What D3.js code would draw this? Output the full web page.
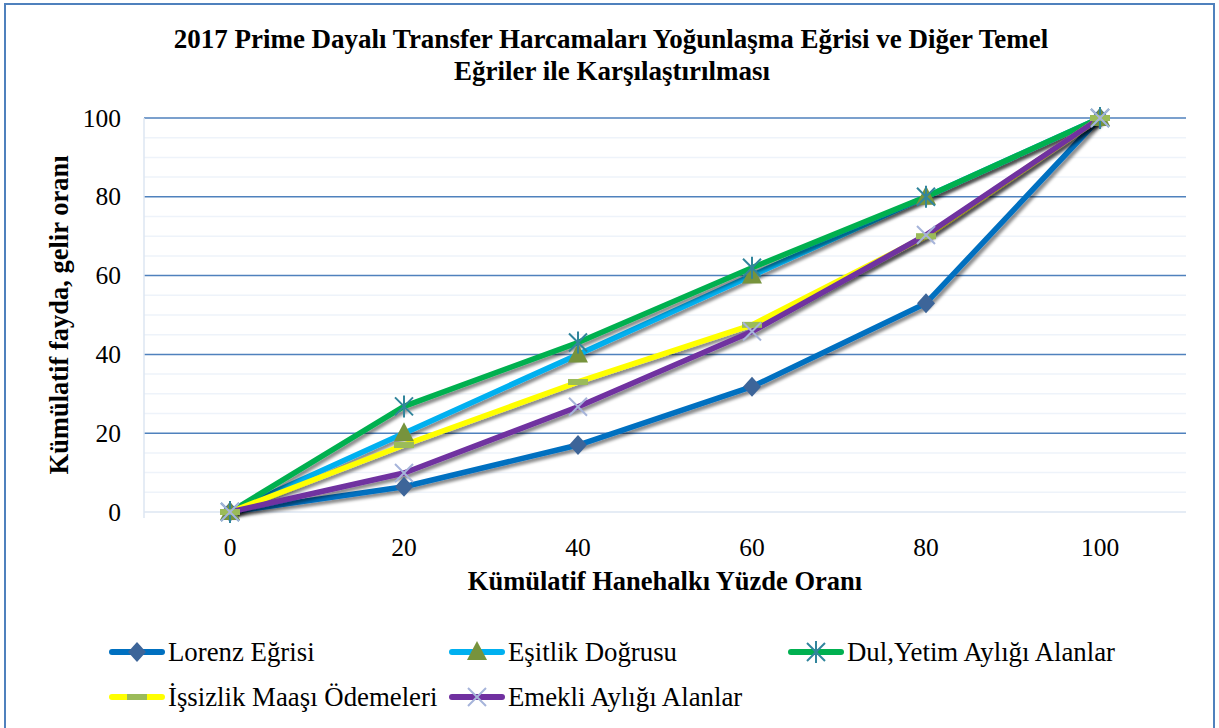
<!DOCTYPE html>
<html><head><meta charset="utf-8">
<script src="https://cdn.jsdelivr.net/npm/d3@7"></script>
<style>body{margin:0;background:#fff}svg{display:block}</style>
</head><body><svg id="c" width="1219" height="728" font-family="Liberation Serif"></svg>
<script>
const categories = [0, 20, 40, 60, 80, 100];
const yTicks = [0, 20, 40, 60, 80, 100];
const seriesNames = ["Lorenz Eğrisi", "Eşitlik Doğrusu", "Dul,Yetim Aylığı Alanlar", "İşsizlik Maaşı Ödemeleri", "Emekli Aylığı Alanlar"];
const lorenz = [0, 6.4, 17, 31.8, 53, 100];
const esitlik = [0, 20, 40, 60, 80, 100];
const dulYetim = [0, 26.8, 43, 62, 80, 100];
const issizlik = [0, 17, 33, 47.5, 70, 100];
const emekli = [0, 9.9, 26.7, 45.8, 70.3, 100];

const svg = d3.select("#c");
const defs = svg.append("defs");
const f = defs.append("filter").attr("id","sh").attr("x","-10%").attr("y","-10%").attr("width","130%").attr("height","130%");
f.append("feDropShadow").attr("dx",2.5).attr("dy",3).attr("stdDeviation",1.8).attr("flood-color","#000").attr("flood-opacity",0.45);

// border
svg.append("rect").attr("x",5).attr("y",4).attr("width",1209).attr("height",740).attr("fill","none").attr("stroke","#4F81BD").attr("stroke-width",2);

const x = d3.scalePoint().domain(categories).range([143,1187]).padding(0.5);
const y = d3.scaleLinear().domain([0,100]).range([512,118]);

// minor gridlines
const minor = d3.range(5,100,5).filter(v=>v%20!==0);
svg.append("g").selectAll("line").data(minor).join("line")
  .attr("x1",144).attr("x2",1186).attr("y1",d=>y(d)).attr("y2",d=>y(d))
  .attr("stroke","#EEF3FA").attr("stroke-width",1.5);
// major gridlines
svg.append("g").selectAll("line").data(yTicks.filter(v=>v>0)).join("line")
  .attr("x1",144).attr("x2",1186).attr("y1",d=>y(d)).attr("y2",d=>y(d))
  .attr("stroke","#4F81BD").attr("stroke-width",1.5);
// zero line & left axis
svg.append("line").attr("x1",144).attr("x2",1186).attr("y1",y(0)).attr("y2",y(0)).attr("stroke","#DCE6F2").attr("stroke-width",1.5);
svg.append("line").attr("x1",144).attr("x2",144).attr("y1",y(100)).attr("y2",y(0)+6).attr("stroke","#DCE6F2").attr("stroke-width",1.5);

// y tick labels
svg.append("g").selectAll("text").data(yTicks).join("text").attr("font-family","Liberation Serif")
  .attr("x",121).attr("y",d=>y(d)+8.5).attr("text-anchor","end").attr("font-size",25.5).text(d=>d);
// x tick labels
svg.append("g").selectAll("text").data(categories).join("text").attr("font-family","Liberation Serif")
  .attr("x",d=>x(d)).attr("y",556).attr("text-anchor","middle").attr("font-size",25.5).text(d=>d);

// titles
const T = (sel)=>sel.attr("font-family","Liberation Serif").attr("font-weight","bold").attr("text-anchor","middle");
T(svg.append("text")).attr("x",611).attr("y",48).attr("font-size",27).text("2017 Prime Dayalı Transfer Harcamaları Yoğunlaşma Eğrisi ve Diğer Temel");
T(svg.append("text")).attr("x",612).attr("y",80).attr("font-size",27).text("Eğriler ile Karşılaştırılması");
T(svg.append("text")).attr("x",665).attr("y",590).attr("font-size",26.5).text("Kümülatif Hanehalkı Yüzde Oranı");
T(svg.append("text")).attr("transform","translate(68,315) rotate(-90)").attr("font-size",26.5).text("Kümülatif fayda, gelir oranı");

const series = [
  {name:seriesNames[0], data:lorenz, color:"#0070C0", marker:"diamond", mcolor:"#3D6599"},
  {name:seriesNames[1], data:esitlik, color:"#00B0F0", marker:"triangle", mcolor:"#77933C"},
  {name:seriesNames[2], data:dulYetim, color:"#00B050", marker:"star", mcolor:"#31859C"},
  {name:seriesNames[3], data:issizlik, color:"#FFFF00", marker:"dash", mcolor:"#9BBB59"},
  {name:seriesNames[4], data:emekli, color:"#7030A0", marker:"x", mcolor:"#A6B4DA"}
];

function drawMarker(g, type, cx, cy, col){
  if(type==="diamond"){
    g.append("path").attr("d",`M${cx},${cy-10}L${cx+9},${cy}L${cx},${cy+10}L${cx-9},${cy}Z`).attr("fill",col);
  } else if(type==="triangle"){
    g.append("path").attr("d",`M${cx},${cy-11}L${cx+10},${cy+8}L${cx-10},${cy+8}Z`).attr("fill",col);
  } else if(type==="star"){
    const s=9;
    g.append("path").attr("d",`M${cx-s},${cy-s}L${cx+s},${cy+s}M${cx-s},${cy+s}L${cx+s},${cy-s}M${cx},${cy-s-2}L${cx},${cy+s+2}`).attr("stroke",col).attr("stroke-width",2).attr("fill","none");
  } else if(type==="dash"){
    g.append("rect").attr("x",cx-10).attr("y",cy-3).attr("width",20).attr("height",6).attr("fill",col);
  } else if(type==="x"){
    const s=9;
    g.append("path").attr("d",`M${cx-s},${cy-s}L${cx+s},${cy+s}M${cx-s},${cy+s}L${cx+s},${cy-s}`).attr("stroke",col).attr("stroke-width",2).attr("fill","none");
  }
}

const line = d3.line().x((d,i)=>x(categories[i])).y(d=>y(d));
const plot = svg.append("g");
series.forEach(s=>{
  const g = plot.append("g").attr("filter","url(#sh)");
  g.append("path").attr("d",line(s.data)).attr("fill","none").attr("stroke",s.color).attr("stroke-width",5.5).attr("stroke-linejoin","round").attr("stroke-linecap","round");
});
series.forEach(s=>{
  const g = plot.append("g");
  s.data.forEach((v,i)=>drawMarker(g,s.marker,x(categories[i]),y(v),s.mcolor));
});

// legend
const legPos = [[109,652],[449,652],[788,652],[109,697],[449,697]];
series.forEach((s,i)=>{
  const [lx,ly] = legPos[i];
  const g = svg.append("g");
  g.append("line").attr("x1",lx+3).attr("x2",lx+53).attr("y1",ly).attr("y2",ly).attr("stroke",s.color).attr("stroke-width",6).attr("stroke-linecap","round");
  drawMarker(g,s.marker,lx+28,ly,s.mcolor);
  g.append("text").attr("font-family","Liberation Serif").attr("x",lx+59).attr("y",ly+8.5).attr("font-size",26.8).text(s.name);
});
</script></body></html>
